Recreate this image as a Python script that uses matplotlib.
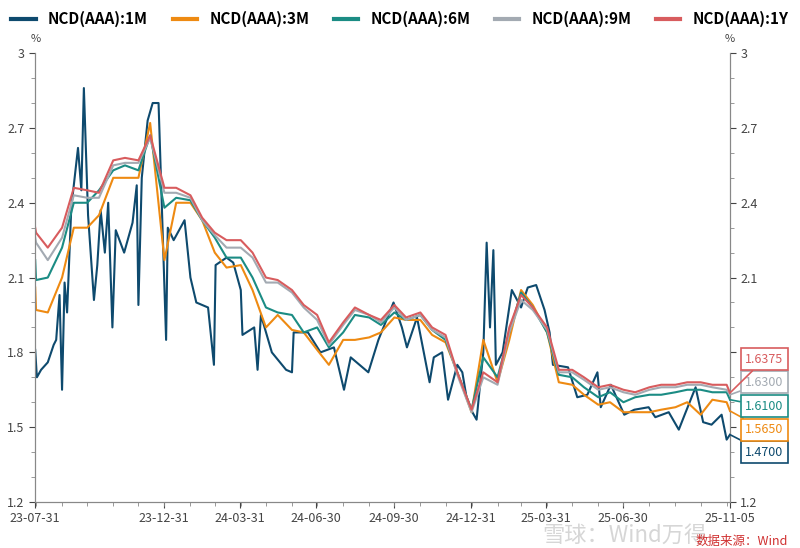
import matplotlib
matplotlib.use("Agg")
import matplotlib.pyplot as plt
import matplotlib.dates as mdates
import pandas as pd
import numpy as np

plt.rcParams['font.family'] = ['Noto Sans CJK SC', 'DejaVu Sans']

dates = ["2023-07-31","2023-08-01","2023-08-15","2023-09-01","2023-09-15","2023-10-01","2023-10-15",
         "2023-11-01","2023-11-15","2023-12-01","2023-12-15","2024-01-01","2024-01-15","2024-02-01",
         "2024-02-15","2024-03-01","2024-03-15","2024-04-01","2024-04-15","2024-05-01","2024-05-15",
         "2024-06-01","2024-06-15","2024-07-01","2024-07-15","2024-08-01","2024-08-15","2024-09-01",
         "2024-09-15","2024-10-01","2024-10-15","2024-11-01","2024-11-15","2024-12-01","2024-12-15",
         "2025-01-01","2025-01-15","2025-02-01","2025-02-15","2025-03-01","2025-03-15","2025-04-01",
         "2025-04-15","2025-05-01","2025-05-15","2025-06-01","2025-06-15","2025-07-01","2025-07-15",
         "2025-08-01","2025-08-15","2025-09-01","2025-09-15","2025-10-01","2025-10-15","2025-11-01",
         "2025-11-05"]

y1 = [2.30,2.28,2.22,2.30,2.46,2.45,2.44,2.57,2.58,2.57,2.67,2.46,2.46,2.43,2.34,2.28,2.25,2.25,2.20,2.10,
      2.09,2.05,1.99,1.95,1.84,1.92,1.98,1.95,1.93,1.99,1.94,1.96,1.90,1.87,1.72,1.57,1.72,1.68,1.90,2.03,
      1.98,1.90,1.73,1.73,1.70,1.66,1.67,1.65,1.64,1.66,1.67,1.67,1.68,1.68,1.67,1.67,1.6375]
m9 = [2.26,2.24,2.17,2.26,2.43,2.42,2.42,2.55,2.56,2.56,2.66,2.44,2.44,2.42,2.33,2.27,2.22,2.22,2.18,2.08,
      2.08,2.04,1.98,1.93,1.83,1.91,1.97,1.95,1.92,1.98,1.93,1.95,1.89,1.86,1.71,1.56,1.70,1.67,1.88,2.01,
      1.97,1.89,1.72,1.72,1.69,1.65,1.66,1.64,1.63,1.65,1.66,1.66,1.67,1.67,1.66,1.65,1.63]
m6 = [2.17,2.09,2.10,2.22,2.40,2.40,2.45,2.53,2.55,2.53,2.67,2.38,2.42,2.41,2.33,2.26,2.18,2.18,2.10,1.98,
      1.96,1.95,1.88,1.90,1.82,1.88,1.95,1.94,1.91,1.96,1.93,1.95,1.89,1.85,1.72,1.57,1.78,1.70,1.88,2.04,
      1.98,1.88,1.71,1.70,1.66,1.62,1.64,1.60,1.62,1.63,1.63,1.64,1.65,1.65,1.64,1.64,1.61]
m3 = [2.06,1.97,1.96,2.10,2.30,2.30,2.35,2.50,2.50,2.50,2.72,2.17,2.40,2.40,2.33,2.20,2.14,2.15,2.05,1.90,
      1.95,1.89,1.88,1.81,1.75,1.85,1.85,1.86,1.88,1.94,1.93,1.93,1.87,1.84,1.72,1.56,1.85,1.68,1.85,2.05,
      1.99,1.88,1.68,1.67,1.63,1.59,1.60,1.56,1.56,1.56,1.57,1.58,1.60,1.55,1.61,1.60,1.565]

dates_1m = ["2023-07-31","2023-08-02","2023-08-07","2023-08-15","2023-08-22","2023-08-25","2023-08-29",
            "2023-09-01","2023-09-04","2023-09-07","2023-09-12","2023-09-20","2023-09-24","2023-09-27",
            "2023-10-02","2023-10-09","2023-10-13","2023-10-17","2023-10-22","2023-10-26","2023-10-31",
            "2023-11-04","2023-11-14","2023-11-24","2023-11-29","2023-12-01","2023-12-05","2023-12-12",
            "2023-12-18","2023-12-25","2024-01-03","2024-01-05","2024-01-12","2024-01-25","2024-02-01",
            "2024-02-08","2024-02-22","2024-02-29","2024-03-02","2024-03-15","2024-03-23","2024-04-01",
            "2024-04-03","2024-04-17","2024-04-21","2024-04-25","2024-05-08","2024-05-25","2024-06-01",
            "2024-06-03","2024-06-20","2024-07-05","2024-07-21","2024-08-02","2024-08-10","2024-08-31",
            "2024-09-12","2024-09-30","2024-10-10","2024-10-16","2024-10-28","2024-11-12","2024-11-17",
            "2024-11-27","2024-12-04","2024-12-15","2024-12-21","2024-12-26","2025-01-02","2025-01-07",
            "2025-01-15","2025-01-19","2025-01-23","2025-01-27","2025-01-30","2025-02-07","2025-02-18",
            "2025-03-01","2025-03-09","2025-03-19","2025-03-29","2025-04-04","2025-04-08","2025-04-26",
            "2025-05-07","2025-05-19","2025-05-31","2025-06-04","2025-06-16","2025-07-02","2025-07-14",
            "2025-07-31","2025-08-08","2025-08-24","2025-09-05","2025-09-12","2025-09-25","2025-10-04",
            "2025-10-14","2025-10-26","2025-11-01","2025-11-05"]
m1 = [1.81,1.70,1.73,1.76,1.83,1.85,2.03,1.65,2.08,1.96,2.38,2.62,2.45,2.86,2.35,2.01,2.15,2.37,2.20,2.40,
      1.90,2.29,2.20,2.32,2.47,1.99,2.50,2.73,2.80,2.80,1.85,2.30,2.25,2.33,2.10,2.00,1.98,1.75,2.15,2.18,
      2.16,2.05,1.87,1.90,1.73,1.95,1.80,1.73,1.72,1.88,1.88,1.80,1.82,1.65,1.78,1.72,1.85,2.00,1.90,1.82,
      1.94,1.68,1.78,1.80,1.61,1.75,1.72,1.62,1.56,1.53,1.80,2.24,1.90,2.21,1.75,1.80,2.05,1.98,2.06,2.07,
      1.97,1.88,1.75,1.74,1.62,1.63,1.72,1.58,1.67,1.55,1.57,1.58,1.54,1.56,1.49,1.55,1.66,1.52,1.51,1.55,
      1.45,1.47]

names = ["NCD(AAA):1M","NCD(AAA):3M","NCD(AAA):6M","NCD(AAA):9M","NCD(AAA):1Y"]
colors = ["#0e4a6e","#ee8a12","#1b8c84","#a3aab2","#d85c5e"]
end_labels = ["1.4700","1.5650","1.6100","1.6300","1.6375"]
box_y = [1.40,1.49,1.584,1.68,1.772]

tick_dates = ["2023-07-31","2023-12-31","2024-03-31","2024-06-30","2024-09-30","2024-12-31",
              "2025-03-31","2025-06-30","2025-11-05"]
ytick_vals = [1.2,1.5,1.8,2.1,2.4,2.7,3.0]
ytick_labs = ["1.2","1.5","1.8","2.1","2.4","2.7","3"]

fig = plt.figure(figsize=(8,5.48), dpi=100)
ax = fig.add_axes([0.044,0.084,0.8685,0.819])
d = pd.to_datetime(dates)
series = [(pd.to_datetime(dates_1m), m1), (d, m3), (d, m6), (d, m9), (d, y1)]
handles = []
for (xx, yy), c, n in zip(series, colors, names):
    h, = ax.plot(xx, yy, color=c, lw=1.5, label=n)
    handles.append(h)
ax.set_ylim(1.2, 3.0)
ax.set_xlim(pd.Timestamp("2023-07-31"), pd.Timestamp("2025-11-05"))
ax.set_xticks(pd.to_datetime(tick_dates))
ax.set_xticklabels([t[2:] for t in tick_dates])
ax.xaxis.set_minor_locator(mdates.MonthLocator(bymonthday=1))

ax2 = ax.twinx()
ax2.set_ylim(1.2, 3.0)
for a in (ax, ax2):
    a.set_yticks(ytick_vals)
    a.set_yticklabels(ytick_labs)
    a.set_yticks(np.arange(1.2, 3.0, 0.1), minor=True)
    a.tick_params(labelsize=9, colors="#444444", length=4)
    a.tick_params(which="minor", length=3, colors="#888888")
    a.spines["top"].set_visible(False)
    for s in ["left","right","bottom"]:
        a.spines[s].set_color("#888888")
ax.text(0.0, 1.025, "%", transform=ax.transAxes, ha="center", fontsize=8, color="#444444")
ax.text(1.0, 1.025, "%", transform=ax.transAxes, ha="center", fontsize=8, color="#444444")

for (xx, yy), c, lab, by in zip(series, colors, end_labels, box_y):
    ax2.annotate(lab, xy=(mdates.date2num(xx[-1]), yy[-1]), xycoords=("data","data"),
                 xytext=(745/800, by), textcoords=("figure fraction","data"),
                 fontsize=9, color=c, va="center", ha="left", annotation_clip=False, zorder=10,
                 bbox=dict(boxstyle="square,pad=0.35", fc="white", ec=c, lw=1.2),
                 arrowprops=dict(arrowstyle="-", color=c, lw=1.2, shrinkA=0, shrinkB=0))

leg = fig.legend(handles=handles, labels=names, loc="upper center", bbox_to_anchor=(0.5, 1.005), ncol=5,
                 frameon=False, handlelength=1.6, columnspacing=1.6,
                 prop={"weight":"bold","size":11})
for lh in leg.get_lines():
    lh.set_linewidth(3)

fig.text(0.78, 0.012, "雪球：Wind万得", fontsize=16, color="#cccccc", alpha=0.8, ha="center", zorder=0)
fig.text(0.985, 0.005, "数据来源：Wind", fontsize=9, color="#d03030", ha="right")
fig.savefig("out.png", dpi=100)
